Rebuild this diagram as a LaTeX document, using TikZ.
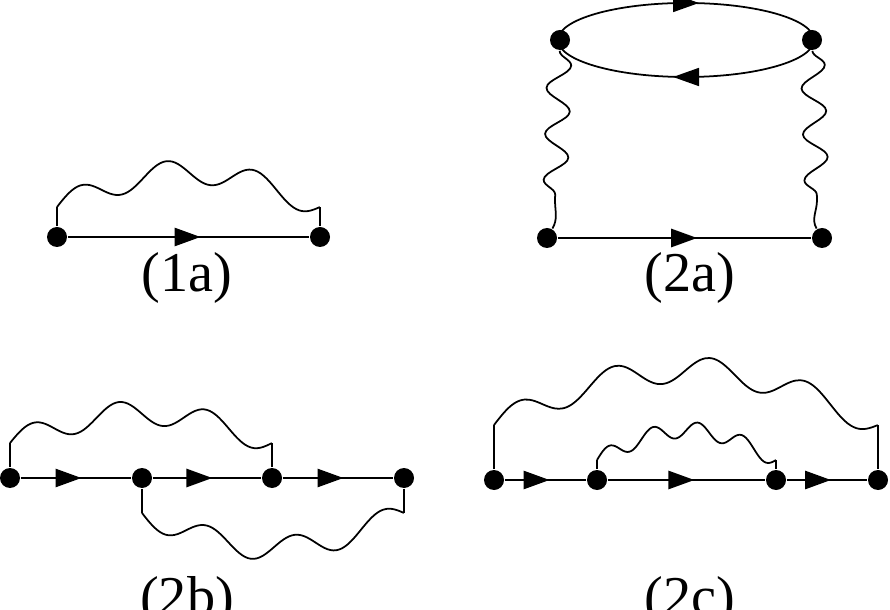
\documentclass[tikz,border=0pt]{standalone}
\usepackage{fontspec}
\setmainfont{Liberation Serif}
\usetikzlibrary{decorations.pathmorphing,decorations.markings,arrows.meta}
\tikzset{
  vtx/.style={circle,fill,inner sep=0pt,minimum size=0.2cm},
  fermion/.style={thick,postaction={decorate},decoration={markings,
    mark=at position #1 with {\arrow{Triangle[length=0.26cm,width=0.18cm]}}}},
  fermion/.default=0.55,
  vphoton/.style={decorate,decoration={snake,amplitude=0.12cm,segment length=0.46cm}},
  lbl/.style={font=\fontsize{16}{18}\selectfont}
}
% arched wavy line: x0, x1, base y, arch height, amplitude, wiggles
\newcommand\photonarc[6]{%
  \draw plot[smooth,domain=0:1,samples=90]
    ({#1+(#2-#1)*\x},{#3+#4*sin(180*\x)+#5*sin(360*#6*\x)});}
\begin{document}
\begin{tikzpicture}[line width=0.5pt]
\useasboundingbox (0,0) rectangle (8.9,-6.1);
% (1a)
\node[vtx] (a1) at (0.57,-2.37) {};
\node[vtx] (a2) at (3.20,-2.37) {};
\draw[fermion] (a1) -- (a2);
\draw (a1) -- ++(0,0.3);
\draw (a2) -- ++(0,0.3);
\photonarc{0.57}{3.20}{-2.07}{0.35}{0.12}{3}
\node[lbl] (l1a) at (1.87,-2.78) {(1a)};
% (2a)
\node[vtx] (b1) at (5.60,-0.40) {};
\node[vtx] (b2) at (8.12,-0.40) {};
\node[vtx] (b3) at (5.47,-2.38) {};
\node[vtx] (b4) at (8.22,-2.38) {};
\draw (6.86,-0.40) ellipse (1.28 and 0.37);
\draw[-{Triangle[length=0.26cm,width=0.18cm]}] (6.75,-0.03) -- (6.99,-0.03);
\draw[-{Triangle[length=0.26cm,width=0.18cm]}] (6.97,-0.77) -- (6.73,-0.77);
\draw[fermion] (b3) -- (b4);
\draw[vphoton] (b1) -- (5.55,-2.0);
\draw (5.55,-2.0) to[out=-90,in=60] (b3);
\draw[vphoton] (b2) -- (8.17,-2.0);
\draw (8.17,-2.0) to[out=-90,in=120] (b4);
\node[lbl] (l2a) at (6.90,-2.78) {(2a)};
% (2b)
\node[vtx] (c1) at (0.10,-4.78) {};
\node[vtx] (c2) at (1.42,-4.78) {};
\node[vtx] (c3) at (2.72,-4.78) {};
\node[vtx] (c4) at (4.04,-4.78) {};
\draw[fermion] (c1) -- (c2);
\draw[fermion] (c2) -- (c3);
\draw[fermion] (c3) -- (c4);
\draw (c1) -- ++(0,0.35);
\draw (c3) -- ++(0,0.35);
\photonarc{0.10}{2.72}{-4.43}{0.3}{0.12}{3}
\draw (c2) -- ++(0,-0.35);
\draw (c4) -- ++(0,-0.35);
\photonarc{1.42}{4.04}{-5.13}{-0.35}{-0.12}{3}
\node[lbl] (l2b) at (1.87,-6.02) {(2b)};
% (2c)
\node[vtx] (d1) at (4.94,-4.80) {};
\node[vtx] (d2) at (5.97,-4.80) {};
\node[vtx] (d3) at (7.76,-4.80) {};
\node[vtx] (d4) at (8.78,-4.80) {};
\draw[fermion] (d1) -- (d2);
\draw[fermion] (d2) -- (d3);
\draw[fermion] (d3) -- (d4);
\draw (d1) -- ++(0,0.55);
\draw (d4) -- ++(0,0.55);
\photonarc{4.94}{8.78}{-4.25}{0.55}{0.13}{4}
\draw (d2) -- ++(0,0.2);
\draw (d3) -- ++(0,0.2);
\photonarc{5.97}{7.76}{-4.60}{0.3}{0.08}{4}
\node[lbl] (l2c) at (6.90,-6.02) {(2c)};
\end{tikzpicture}
\end{document}
